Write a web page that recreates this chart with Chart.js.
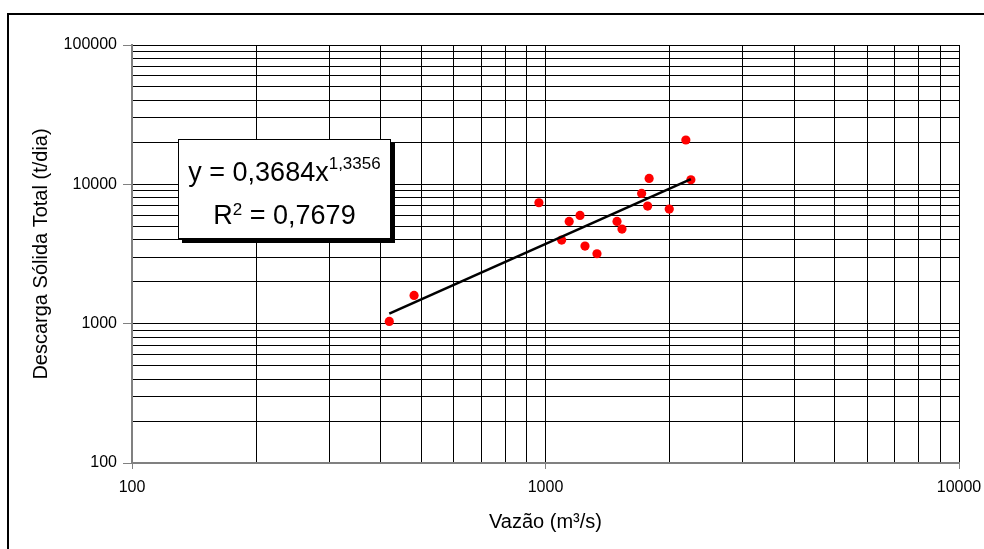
<!DOCTYPE html>
<html>
<head>
<meta charset="utf-8">
<script src="https://cdn.jsdelivr.net/npm/chart.js@4"></script>
<style>
  html, body { margin: 0; padding: 0; background: #fff; overflow: hidden; }
  #wrap { position: relative; width: 984px; height: 549px; }
  #frame { position: absolute; left: 7px; top: 13px; width: 1000px; height: 600px; border: 2px solid #000; }
  canvas { position: absolute; left: 0; top: 0; }
  #eq {
    position: absolute; left: 178px; top: 139px; width: 211px; height: 98px;
    background: #fff; border: 1px solid #000; box-shadow: 4px 4px 0 #000;
    font-family: Arial, "Liberation Sans", sans-serif; color: #000; text-align: center;
  }
  #eq div { position: absolute; left: 0; width: 100%; font-size: 27px; line-height: 27px; white-space: nowrap; }
  #eq span { font-size: 17px; position: relative; }
</style>
</head>
<body>
<div id="wrap">
  <div id="frame"></div>
  <canvas id="chart" width="984" height="549"></canvas>
  <div id="eq">
    <div style="top: 19px;">y = 0,3684x<span style="top: -12px;">1,3356</span></div>
    <div style="top: 62px;">R<span style="top: -9px;">2</span> = 0,7679</div>
  </div>
</div>
<script>
// data
const flowX = [419, 481, 964, 1094, 1141, 1212, 1246, 1332, 1489, 1531, 1708, 1781, 1766, 1992, 2185, 2247];
const loadY = [1037, 1594, 7379, 3982, 5416, 5980, 3606, 3176, 5416, 4775, 8605, 11026, 6985, 6648, 20800, 10790];

// power trendline, end points as drawn
const trendX = [419, 2247];
const trendY = [1180, 10900];

// labelled decades
const xTickLabels = [100, 1000, 10000];
const yTickLabels = [100, 1000, 10000, 100000];

const FONT = "Arial, 'Liberation Sans', sans-serif";

// grid values 1..9 inside each decade
function gridValues(labels) {
  const vals = [];
  for (let i = 0; i < labels.length - 1; i++) {
    for (let m = 1; m <= 9; m++) vals.push(labels[i] * m);
  }
  vals.push(labels[labels.length - 1]);
  return vals;
}

function logAxis(labels) {
  return {
    type: "logarithmic",
    min: labels[0],
    max: labels[labels.length - 1],
    afterBuildTicks: (scale) => {
      scale.ticks = gridValues(labels).map(v => ({ value: v, major: labels.includes(v) }));
    },
    ticks: {
      autoSkip: false,
      maxRotation: 0,
      color: "#000",
      font: { family: FONT, size: 16 },
      callback: (v) => labels.includes(v) ? String(v) : ""
    },
    grid: {
      color: "#000",
      lineWidth: 1,
      tickColor: (ctx) => (ctx.tick && labels.includes(ctx.tick.value)) ? "#808080" : "rgba(0,0,0,0)"
    },
    border: { color: "#808080", width: 2 }
  };
}

const xAxis = logAxis(xTickLabels);
xAxis.grid.tickLength = 6;
xAxis.ticks.padding = 9;
xAxis.title = { display: true, text: "Vazão (m³/s)", color: "#000", font: { family: FONT, size: 20 }, padding: { top: 0, bottom: 15 } };
xAxis.afterFit = (scale) => {
  scale.height = 86;
  scale.paddingLeft = 0;
  scale.paddingRight = 0;
};

const yAxis = logAxis(yTickLabels);
yAxis.grid.tickLength = 9;
yAxis.ticks.padding = 6;
yAxis.title = { display: true, text: "Descarga Sólida Total (t/dia)", color: "#000", font: { family: FONT, size: 20 }, padding: { top: 29, bottom: 0 } };
yAxis.afterFit = (scale) => {
  scale.width = 132;
  scale.paddingTop = 0;
  scale.paddingBottom = 0;
};

new Chart(document.getElementById("chart"), {
  type: "scatter",
  data: {
    datasets: [
      {
        type: "line",
        data: trendX.map((x, i) => ({ x: x, y: trendY[i] })),
        borderColor: "#000",
        borderWidth: 2.6,
        pointRadius: 0,
        fill: false,
        order: 0
      },
      {
        data: flowX.map((x, i) => ({ x: x, y: loadY[i] })),
        backgroundColor: "#ff0000",
        borderWidth: 0,
        pointRadius: 4.6,
        order: 1
      }
    ]
  },
  options: {
    responsive: false,
    animation: false,
    devicePixelRatio: 1,
    layout: { padding: { left: 0, top: 45, right: 25, bottom: 0 } },
    plugins: {
      legend: { display: false },
      tooltip: { enabled: false }
    },
    scales: {
      x: xAxis,
      y: yAxis
    }
  }
});
</script>
</body>
</html>
